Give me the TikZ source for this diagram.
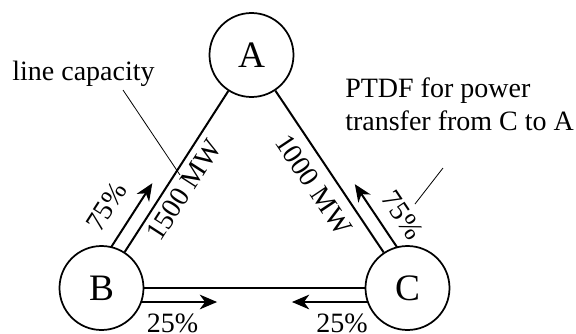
\documentclass[tikz,border=0pt]{standalone}
\usepackage{fontspec}
\setmainfont{Liberation Serif}
\usetikzlibrary{arrows.meta,calc}
\begin{document}
\begin{tikzpicture}[x=0.75pt,y=-0.75pt,
  every node/.style={font=\fontsize{21}{24.75}\selectfont},
  bus/.style={circle,draw,line width=1.3pt,minimum size=63pt,inner sep=0pt,fill=white,
    font=\fontsize{28}{30}\selectfont},
  tie/.style={line width=1.5pt},
  flow/.style={line width=1.5pt,-{Stealth[length=13pt,width=11pt,inset=4pt]}},
  lbl/.style={inner sep=0pt},
  lead/.style={line width=0.6pt}]
\useasboundingbox (0,0) rectangle (576,333);

% buses
\node[bus] (A) at (251.5,55) {A};
\node[bus] (B) at (101.5,288) {B};
\node[bus] (C) at (407.5,288) {C};

% transmission lines
\draw[tie] (A) -- (B);
\draw[tie] (A) -- (C);
\draw[tie] (B) -- (C);

% flow arrows, offset to the outside of each line
\coordinate (bA0) at ($(B)!29.7pt!(A)!10.5pt!90:(A)$);
\coordinate (bA1) at ($(B)!86.7pt!(A)!10.5pt!90:(A)$);
\coordinate (cA0) at ($(C)!29.7pt!(A)!10.5pt!-90:(A)$);
\coordinate (cA1) at ($(C)!86.7pt!(A)!10.5pt!-90:(A)$);
\coordinate (bC0) at ($(B)!29.7pt!(C)!10.5pt!-90:(C)$);
\coordinate (bC1) at ($(B)!86.7pt!(C)!10.5pt!-90:(C)$);
\coordinate (cB0) at ($(C)!29.7pt!(B)!10.5pt!90:(B)$);
\coordinate (cB1) at ($(C)!86.7pt!(B)!10.5pt!90:(B)$);
\draw[flow] (bA0) -- (bA1);
\draw[flow] (cA0) -- (cA1);
\draw[flow] (bC0) -- (bC1);
\draw[flow] (cB0) -- (cB1);

% line and flow labels
\node[lbl,rotate=57.2] (pBA) at (106.5,206.5) {75\%};
\node[lbl,rotate=57.2] (capAB) at (184,190) {1500 MW};
\node[lbl,rotate=-56.2] (capAC) at (313.5,184.5) {1000 MW};
\node[lbl,rotate=-56.2] (pCA) at (402.5,215) {75\%};
\node[lbl,anchor=base] (pBC) at (172.5,332) {25\%};
\node[lbl,anchor=base] (pCB) at (342,332) {25\%};

% callouts
\node[lbl,anchor=base] (capTxt) at (83.5,80) {line capacity};
\node[lbl,anchor=base west,align=left] (ptdfTxt) at (345,130) {PTDF for power\\transfer from C to A};
\coordinate (capFrom) at (123,90);
\coordinate (capTo) at (180,175);
\coordinate (ptdfFrom) at (443,168);
\coordinate (ptdfTo) at (415,204);
\draw[lead] (capFrom) -- (capTo);
\draw[lead] (ptdfFrom) -- (ptdfTo);
\end{tikzpicture}
\end{document}
